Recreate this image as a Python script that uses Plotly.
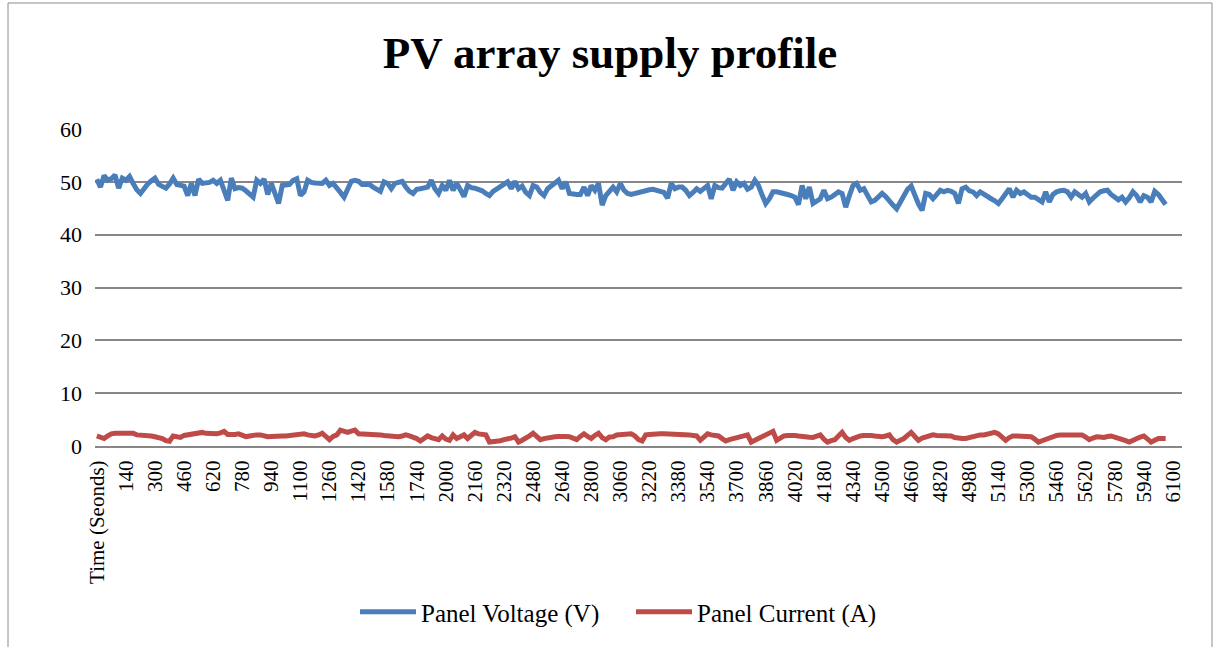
import plotly.graph_objects as go

# ---- categories (time axis, as in the source sheet incl. its header cell) ----
time_header = ["Time (Seonds)"]
times_a = list(range(0, 1880, 20))      # 0 .. 1860
times_b = [1980]
times_c = list(range(2000, 2940, 20))   # 2000 .. 2920
times_d = [3040]
times_e = list(range(3060, 6160, 20))   # 3060 .. 6140
categories = time_header + [str(t) for t in times_a + times_b + times_c + times_d + times_e]

# ---- series values ----
panel_voltage = [
    50.5, 49.0, 51.2, 50.3, 50.6, 51.3, 48.8, 50.7, 50.3, 51.0,
    49.7, 48.5, 47.8, 48.8, 49.6, 50.2, 50.7, 49.5, 49.2, 48.8,
    49.6, 50.7, 49.5, 49.3, 49.2, 47.4, 49.7, 47.4, 50.5, 49.7,
    49.8, 49.9, 50.3, 49.7, 50.3, 48.1, 46.5, 50.7, 48.7, 48.9,
    48.8, 48.3, 47.8, 47.1, 50.3, 49.7, 50.5, 47.6, 49.7, 47.4,
    45.9, 49.3, 49.4, 49.5, 50.3, 50.6, 47.4, 48.1, 50.3, 49.9,
    49.8, 49.7, 49.7, 50.3, 49.3, 49.7, 49.0, 48.0, 47.1, 48.5,
    50.1, 50.3, 50.1, 49.5, 49.5, 49.5, 49.0, 48.6, 48.2, 50.0,
    49.7, 48.7, 49.7, 49.9, 50.1, 49.0, 48.2, 47.8, 48.6, 48.7,
    48.8, 49.0, 50.3, 48.7, 47.8, 49.3, 48.4, 50.3, 48.4, 49.7,
    48.5, 47.2, 49.3, 48.9, 48.8, 48.6, 48.3, 47.8, 47.4, 48.2,
    48.6, 49.0, 49.5, 50.0, 48.7, 50.1, 48.7, 49.2, 48.0, 47.4,
    49.3, 49.0, 48.0, 47.4, 48.7, 49.3, 49.8, 50.3, 48.7, 50.0,
    47.8, 47.6, 47.6, 47.6, 49.0, 47.4, 49.3, 48.4, 49.7, 45.6,
    47.4, 48.2, 49.0, 48.1, 49.7, 48.4, 47.8, 47.6, 47.8, 48.1,
    48.2, 48.4, 48.5, 48.6, 48.5, 48.2, 48.0, 46.9, 49.7, 48.7,
    49.0, 49.0, 48.4, 47.4, 48.0, 48.7, 48.2, 48.9, 49.3, 46.8,
    49.3, 48.9, 48.8, 49.7, 50.5, 48.4, 50.0, 49.3, 49.7, 48.6,
    49.0, 50.3, 49.3, 47.5, 45.9, 46.8, 48.1, 48.1, 48.0, 47.8,
    47.6, 47.4, 47.1, 45.7, 49.3, 46.8, 49.0, 45.9, 46.5, 46.8,
    48.4, 46.8, 47.1, 47.6, 48.1, 47.8, 45.2, 47.4, 49.3, 49.7,
    48.4, 48.7, 47.4, 46.2, 46.5, 47.1, 47.8, 47.2, 46.2, 45.6,
    44.9, 46.2, 47.4, 48.6, 49.2, 47.4, 45.8, 44.6, 47.8, 47.6,
    46.8, 47.6, 48.4, 48.1, 48.4, 48.2, 47.8, 45.9, 48.7, 49.0,
    48.3, 48.1, 47.4, 48.1, 47.6, 47.1, 46.8, 46.4, 45.9, 46.8,
    47.9, 48.7, 47.1, 48.4, 47.8, 48.1, 47.6, 47.1, 47.1, 46.5,
    46.2, 48.1, 46.2, 47.6, 48.1, 48.3, 48.4, 48.1, 47.1, 48.1,
    47.6, 47.1, 47.8, 46.2, 46.9, 47.4, 48.1, 48.3, 48.4, 47.6,
    47.1, 46.6, 47.1, 46.2, 47.0, 48.1, 47.4, 46.2, 47.4, 47.1,
    46.2, 48.2, 47.6, 46.8, 45.7,
]

panel_current = [
    1.9, 1.7, 1.42, 1.9, 2.3, 2.4, 2.4, 2.3, 2.3, 2.5,
    2.4, 2.1, 2.1, 2.0, 2.1, 1.9, 1.76, 1.6, 1.42, 1.0,
    0.9, 1.9, 1.7, 1.62, 2.0, 2.1, 2.3, 2.4, 2.5, 2.57,
    2.4, 2.3, 2.3, 2.3, 2.5, 2.77, 2.2, 2.1, 2.2, 2.3,
    2.0, 1.76, 1.9, 2.1, 2.1, 2.1, 1.9, 1.76, 1.8, 1.76,
    1.8, 1.9, 1.9, 2.0, 2.1, 2.2, 2.43, 2.3, 2.1, 2.0,
    1.9, 2.1, 2.43, 1.8, 1.2, 1.8, 2.1, 3.0, 2.8, 2.57,
    2.8, 3.0, 2.3, 2.3, 2.3, 2.2, 2.1, 2.1, 2.1, 2.0,
    1.9, 1.76, 1.76, 1.76, 1.9, 2.1, 1.9, 1.76, 1.4, 0.95,
    1.4, 1.9, 1.6, 1.42, 1.2, 1.9, 1.3, 1.08, 2.1, 1.42,
    1.7, 2.1, 1.42, 2.0, 2.57, 2.3, 2.2, 2.1, 0.74, 0.8,
    0.74, 1.0, 1.2, 1.3, 1.5, 1.76, 0.74, 1.1, 1.42, 1.9,
    2.43, 1.8, 1.2, 1.4, 1.6, 1.7, 1.76, 1.8, 1.9, 1.8,
    1.76, 1.5, 1.2, 1.8, 2.3, 1.8, 1.42, 2.0, 2.43, 1.6,
    1.2, 1.7, 1.76, 2.1, 2.2, 2.3, 2.3, 2.3, 1.9, 1.2,
    0.95, 2.1, 2.2, 2.3, 2.3, 2.3, 2.3, 2.3, 2.2, 2.1,
    2.1, 2.1, 2.1, 2.1, 2.0, 1.9, 1.08, 1.7, 2.3, 2.1,
    1.9, 1.9, 1.4, 0.95, 1.2, 1.42, 1.6, 1.76, 1.9, 2.1,
    0.74, 1.1, 1.42, 1.9, 2.3, 2.5, 2.77, 1.08, 1.5, 1.9,
    2.0, 2.1, 2.0, 1.9, 1.76, 1.7, 1.65, 1.62, 1.8, 2.1,
    1.3, 0.74, 1.0, 1.2, 1.9, 2.57, 1.6, 1.08, 1.4, 1.76,
    1.9, 2.0, 2.1, 2.0, 1.9, 1.8, 1.76, 1.9, 2.1, 1.2,
    0.74, 1.1, 1.42, 2.0, 2.57, 1.8, 1.08, 1.5, 1.76, 1.9,
    2.1, 2.0, 1.95, 1.9, 1.9, 1.9, 1.6, 1.42, 1.42, 1.42,
    1.6, 1.9, 2.0, 2.1, 2.1, 2.3, 2.5, 2.57, 2.3, 1.6,
    1.08, 1.6, 1.9, 1.9, 1.9, 1.9, 1.8, 1.76, 1.3, 0.74,
    1.0, 1.3, 1.62, 1.8, 2.0, 2.1, 2.1, 2.1, 2.1, 2.1,
    2.1, 2.1, 1.7, 1.2, 1.5, 1.76, 1.7, 1.62, 1.8, 1.9,
    1.7, 1.5, 1.42, 1.0, 0.74, 1.1, 1.42, 1.7, 1.9, 1.2,
    0.74, 1.1, 1.42, 1.42, 1.42,
]

y_ticks = [0, 10, 20, 30, 40, 50, 60]
label_every = 8
tick_labels = categories[::label_every]

n = len(categories)
v_full = panel_voltage + [None] * (n - len(panel_voltage))
c_full = panel_current + [None] * (n - len(panel_current))

FONT = "Liberation Serif, Times New Roman, serif"
GRID = "#878787"

fig = go.Figure()
fig.add_trace(go.Scatter(x=categories, y=v_full, mode="lines", name="Panel Voltage (V)",
                         line=dict(color="#4a7ebb", width=5)))
fig.add_trace(go.Scatter(x=categories, y=c_full, mode="lines", name="Panel Current (A)",
                         line=dict(color="#be4b48", width=5)))

W, H = 1220, 647
ml, mr, mt, mb = 95, 38, 129, 201
pw, ph = W - ml - mr, H - mt - mb

def px_x(x):
    return (x - ml) / pw

def px_y(y):
    return (H - mb - y) / ph

fig.update_layout(
    width=W, height=H,
    margin=dict(l=ml, r=mr, t=mt, b=mb, autoexpand=False),
    paper_bgcolor="white", plot_bgcolor="white",
    font=dict(family=FONT, size=21, color="black"),
    title=dict(text="<b>PV array supply profile</b>", x=0.5, xanchor="center",
               y=1 - 52 / H, yanchor="middle", font=dict(family=FONT, size=45, color="black")),
    xaxis=dict(type="category", categoryorder="array", categoryarray=categories,
               range=[-0.5, n - 0.5], tickmode="array", tickvals=tick_labels,
               ticktext=tick_labels, tickangle=-90, showgrid=False, showline=True,
               linecolor=GRID, linewidth=2, ticks="", ticklabelstandoff=4,
               tickfont=dict(family=FONT, size=21, color="black")),
    yaxis=dict(range=[0, 60], tickmode="array", tickvals=y_ticks, showgrid=True,
               gridcolor=GRID, gridwidth=2, zeroline=False, showline=False, ticks="",
               ticklabelstandoff=12, tickfont=dict(family=FONT, size=22, color="black")),
    legend=dict(orientation="h", x=px_x(355), xanchor="left", y=px_y(612), yanchor="middle",
                font=dict(family=FONT, size=25, color="black"), bgcolor="rgba(0,0,0,0)",
                itemwidth=56, entrywidth=205, entrywidthmode="pixels", tracegroupgap=0),
    showlegend=True,
    shapes=[dict(type="rect", xref="paper", yref="paper",
                 x0=px_x(8), x1=px_x(1212), y0=px_y(680), y1=px_y(3),
                 line=dict(color="#8c8c8c", width=1), fillcolor="rgba(0,0,0,0)", layer="below")],
)

fig.write_html(
    "out.html",
    config={"displayModeBar": False},
    post_script="document.body.style.margin='0';document.documentElement.style.overflow='hidden';",
)
